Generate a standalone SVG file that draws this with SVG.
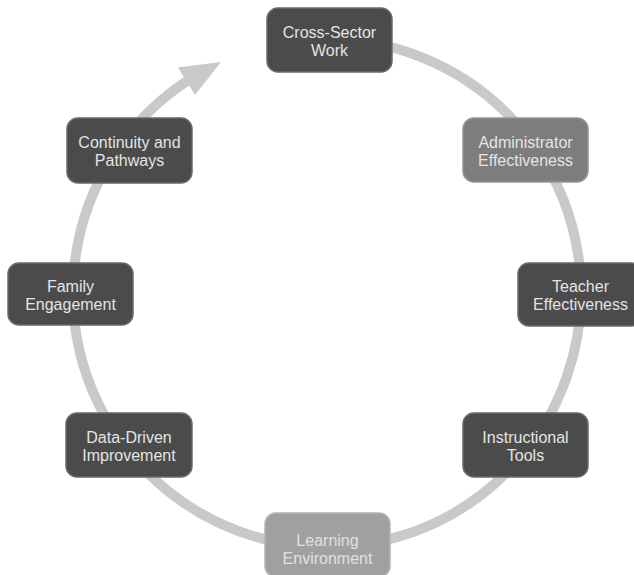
<svg xmlns="http://www.w3.org/2000/svg" width="634" height="575" viewBox="0 0 634 575">
<style>
.bg{fill:#ffffff}
.ring{fill:none;stroke:#c9c9c9;stroke-width:10}
.head{fill:#c9c9c9}
.node rect{stroke-width:1.5}
.dark rect{fill:#4b4b4b;stroke:#6a6a6a}
.mid rect{fill:#7d7d7d;stroke:#959595}
.light rect{fill:#a0a0a0;stroke:#b4b4b4}
.node text{font-family:"Liberation Sans",Arial,sans-serif;font-size:16px;text-anchor:middle;fill:#e4e4e4}
.light text{fill:#e0e0e0}
</style>
<rect class="bg" x="0" y="0" width="634" height="575"/>
<g id="connectors">
<path class="ring" d="M 327 39 A 254 254 0 1 1 192.4 77.6"/>
<polygon class="head" points="221,62 178,67.5 195,95"/>
</g>
<g id="cross-sector-work" class="node dark">
<rect x="267" y="8" width="125" height="64" rx="11"/>
<text x="329.5" y="38">Cross-Sector</text>
<text x="329.5" y="56">Work</text>
</g>
<g id="administrator-effectiveness" class="node mid">
<rect x="463" y="118" width="125" height="64" rx="11"/>
<text x="525.5" y="148">Administrator</text>
<text x="525.5" y="166">Effectiveness</text>
</g>
<g id="teacher-effectiveness" class="node dark">
<rect x="518" y="263" width="125" height="63" rx="11"/>
<text x="580.5" y="292">Teacher</text>
<text x="580.5" y="310">Effectiveness</text>
</g>
<g id="instructional-tools" class="node dark">
<rect x="463" y="413" width="125" height="64" rx="11"/>
<text x="525.5" y="443">Instructional</text>
<text x="525.5" y="461">Tools</text>
</g>
<g id="learning-environment" class="node light">
<rect x="265" y="513" width="125" height="64" rx="11"/>
<text x="327.5" y="546">Learning</text>
<text x="327.5" y="564">Environment</text>
</g>
<g id="data-driven-improvement" class="node dark">
<rect x="66" y="413" width="126" height="64" rx="11"/>
<text x="129" y="443">Data-Driven</text>
<text x="129" y="461">Improvement</text>
</g>
<g id="family-engagement" class="node dark">
<rect x="8" y="263" width="125" height="62" rx="11"/>
<text x="70.5" y="292">Family</text>
<text x="70.5" y="310">Engagement</text>
</g>
<g id="continuity-and-pathways" class="node dark">
<rect x="67" y="118" width="125" height="65" rx="11"/>
<text x="129.5" y="148">Continuity and</text>
<text x="129.5" y="166">Pathways</text>
</g>
</svg>
